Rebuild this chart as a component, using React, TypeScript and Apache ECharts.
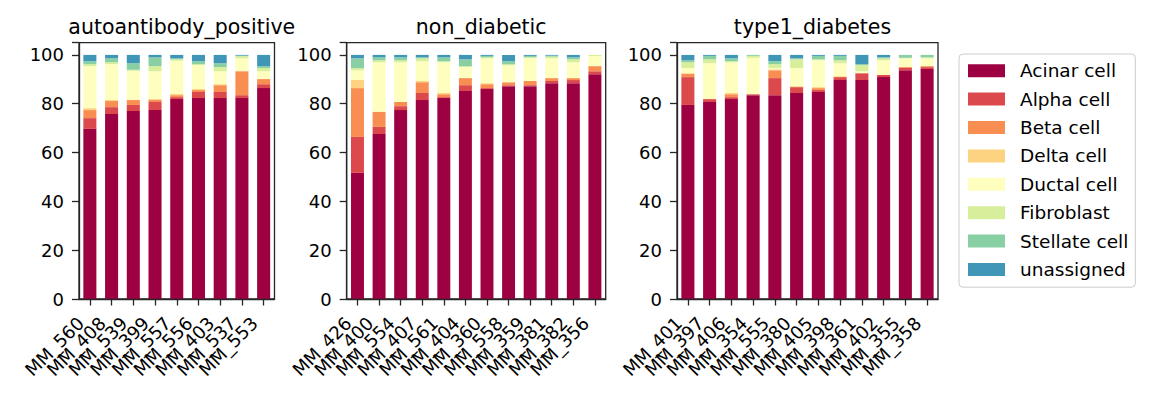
import React, { useEffect, useRef } from 'react';
import * as echarts from 'echarts';

const cellTypes = ['Acinar cell', 'Alpha cell', 'Beta cell', 'Delta cell', 'Ductal cell', 'Fibroblast', 'Stellate cell', 'unassigned'];
const cellColors = ['#9e0142', '#dc494c', '#f98e52', '#fdd280', '#feffbe', '#d7ef9b', '#88d0a4', '#3f96b7'];

const yTicks = [0, 20, 40, 60, 80, 100];

// autoantibody_positive: rows follow cellTypes order
const aapSamples = ['MM_560', 'MM_408', 'MM_539', 'MM_399', 'MM_557', 'MM_556', 'MM_403', 'MM_537', 'MM_553'];
const aapAcinar = [69.7, 75.8, 77.0, 77.4, 81.9, 82.3, 82.3, 82.3, 86.4];
const aapAlpha = [4.4, 2.8, 2.5, 3.3, 0.8, 2.5, 2.5, 1.2, 1.6];
const aapBeta = [3.3, 2.5, 2.0, 1.0, 0.8, 0.8, 2.8, 9.8, 2.1];
const aapDelta = [0.8, 0.4, 0.2, 0.2, 0.5, 0.4, 0.4, 0.2, 0.1];
const aapDuctal = [17.2, 14.7, 11.8, 11.4, 13.6, 9.8, 5.3, 5.1, 3.1];
const aapFibro = [0.8, 0.8, 0.4, 2.1, 0.6, 0.4, 1.7, 0.9, 1.3];
const aapStellate = [1.2, 1.6, 2.7, 3.6, 0.4, 1.2, 1.6, 0.2, 0.8];
const aapUnassigned = [2.6, 1.4, 3.4, 1.0, 1.4, 2.6, 3.4, 0.3, 4.6];

// non_diabetic
const ndSamples = ['MM_426', 'MM_400', 'MM_554', 'MM_407', 'MM_561', 'MM_404', 'MM_360', 'MM_558', 'MM_359', 'MM_381', 'MM_382', 'MM_356'];
const ndAcinar = [51.7, 67.6, 77.4, 81.5, 82.3, 85.2, 86.0, 87.2, 87.2, 88.4, 88.4, 92.1];
const ndAlpha = [14.7, 2.9, 1.6, 2.9, 0.4, 2.4, 0.4, 0.4, 0.4, 0.9, 1.3, 1.2];
const ndBeta = [20.0, 6.1, 1.7, 4.4, 1.2, 2.9, 1.6, 1.2, 1.7, 1.2, 0.8, 2.1];
const ndDelta = [3.3, 0.2, 0, 0.5, 0.5, 0, 0.4, 0, 0, 0, 0, 0];
const ndDuctal = [4.0, 20.2, 16.3, 8.1, 12.6, 4.5, 10.2, 7.0, 9.5, 8.1, 6.5, 4.1];
const ndFibro = [0.9, 0.8, 0.8, 1.2, 0.4, 0.4, 0.4, 0.4, 0.2, 0.7, 1.2, 0.5];
const ndStellate = [4.0, 1.2, 1.2, 0.4, 1.6, 2.8, 0.6, 1.2, 0.6, 0.4, 0.8, 0];
const ndUnassigned = [1.4, 1.0, 1.0, 1.0, 1.0, 1.8, 0.4, 2.6, 0.4, 0.3, 1.0, 0];

// type1_diabetes
const t1dSamples = ['MM_401', 'MM_397', 'MM_406', 'MM_354', 'MM_555', 'MM_380', 'MM_405', 'MM_398', 'MM_361', 'MM_402', 'MM_355', 'MM_358'];
const t1dAcinar = [79.5, 80.7, 81.9, 83.5, 83.5, 84.4, 84.8, 89.7, 89.7, 90.9, 93.7, 94.2];
const t1dAlpha = [11.4, 1.2, 0.8, 0.4, 7.0, 2.4, 0.8, 1.2, 2.8, 0.9, 1.0, 0.8];
const t1dBeta = [1.4, 0, 1.2, 0, 3.2, 0, 0.8, 0, 0, 0, 0.4, 0.4];
const t1dDelta = [0.2, 0, 0.5, 0, 0.4, 0.4, 0.4, 0.4, 0, 0, 0, 0.1];
const t1dDuctal = [2.1, 14.7, 12.6, 14.9, 0.5, 7.4, 11.0, 5.3, 0.8, 6.0, 3.5, 3.1];
const t1dFibro = [2.4, 1.6, 0.4, 0.8, 1.6, 3.6, 0.4, 1.2, 2.5, 0.8, 0.2, 0.4];
const t1dStellate = [0.8, 1.4, 1.2, 0.4, 1.2, 0.4, 1.4, 1.8, 0.4, 0.4, 1.2, 1.0];
const t1dUnassigned = [2.2, 0.4, 1.4, 0, 2.6, 1.4, 0.4, 0.4, 3.8, 1.0, 0, 0];

const FONT = "'DejaVu Sans', sans-serif";

const panels = [
  {
    title: 'autoantibody_positive',
    samples: aapSamples,
    values: [aapAcinar, aapAlpha, aapBeta, aapDelta, aapDuctal, aapFibro, aapStellate, aapUnassigned],
    left: 79,
    width: 195.5,
  },
  {
    title: 'non_diabetic',
    samples: ndSamples,
    values: [ndAcinar, ndAlpha, ndBeta, ndDelta, ndDuctal, ndFibro, ndStellate, ndUnassigned],
    left: 346.7,
    width: 259,
  },
  {
    title: 'type1_diabetes',
    samples: t1dSamples,
    values: [t1dAcinar, t1dAlpha, t1dBeta, t1dDelta, t1dDuctal, t1dFibro, t1dStellate, t1dUnassigned],
    left: 677,
    width: 261,
  },
];

const GRID_TOP = 42.7;
const GRID_HEIGHT = 256.3;
const TICK_FONT = 18;

function buildOption() {
  const grid = panels.map((p) => ({
    left: p.left,
    top: GRID_TOP,
    width: p.width,
    height: GRID_HEIGHT,
    show: true,
    borderColor: '#262626',
    borderWidth: 1.3,
    backgroundColor: 'transparent',
  }));
  const title = panels.map((p) => ({
    text: p.title,
    left: p.left + p.width / 2,
    top: 11,
    textAlign: 'center',
    textStyle: { fontFamily: FONT, fontSize: 20.5, fontWeight: 'normal', color: '#000' },
  }));
  const xAxis = panels.map((p, i) => ({
    type: 'category',
    gridIndex: i,
    data: p.samples,
    z: 5,
    axisLine: { show: true, lineStyle: { color: '#262626', width: 1.3 } },
    axisTick: { show: true, alignWithLabel: true, length: 6.5, lineStyle: { color: '#262626', width: 1.3 } },
    axisLabel: {
      rotate: 45,
      interval: 0,
      margin: 12,
      padding: [0, 13, 0, 0],
      fontFamily: FONT,
      fontSize: TICK_FONT,
      color: '#000',
    },
  }));
  const yAxis = panels.map((p, i) => ({
    type: 'value',
    gridIndex: i,
    min: 0,
    max: 105,
    interval: 20,
    z: 5,
    splitLine: { show: false },
    axisLine: { show: true, lineStyle: { color: '#262626', width: 1.3 } },
    axisTick: { show: true, length: 7, lineStyle: { color: '#262626', width: 1.3 } },
    axisLabel: {
      margin: 15,
      fontFamily: FONT,
      fontSize: TICK_FONT,
      color: '#000',
      formatter: (v: number) => (yTicks.includes(v) ? String(v) : ''),
    },
  }));
  const series: any[] = [];
  panels.forEach((p, i) => {
    cellTypes.forEach((name, c) => {
      series.push({
        type: 'bar',
        name,
        xAxisIndex: i,
        yAxisIndex: i,
        stack: 'panel' + i,
        barWidth: '60%',
        data: p.values[c],
        itemStyle: { color: cellColors[c] },
        emphasis: { disabled: true },
      });
    });
  });
  return {
    animation: false,
    title,
    grid,
    xAxis,
    yAxis,
    series,
    legend: {
      orient: 'vertical',
      left: 959,
      top: 54,
      data: cellTypes,
      icon: 'rect',
      itemWidth: 37,
      itemHeight: 13,
      itemGap: 9.4,
      padding: [7.2, 7, 8.2, 9],
      borderColor: '#cccccc',
      borderWidth: 1,
      borderRadius: 4,
      backgroundColor: '#fff',
      selectedMode: false,
      textStyle: { fontFamily: FONT, fontSize: 18.5, color: '#000', lineHeight: 18.5, padding: [0, 0, 0, 10] },
    },
  };
}

export default function App() {
  const ref = useRef<HTMLDivElement>(null);
  useEffect(() => {
    const chart = echarts.init(ref.current!, null, { renderer: 'svg' });
    chart.setOption(buildOption() as any);
    return () => chart.dispose();
  }, []);
  return <div ref={ref} style={{ position: 'fixed', left: 0, top: 0, width: 1152, height: 404, background: '#fff' }} />;
}
